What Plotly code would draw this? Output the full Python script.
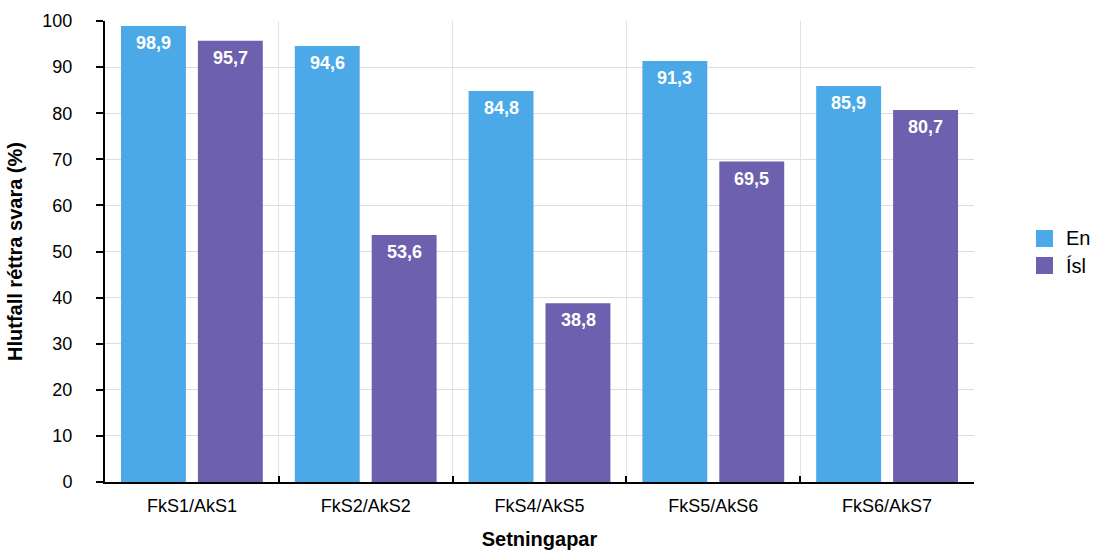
import plotly.graph_objects as go

categories = ["FkS1/AkS1", "FkS2/AkS2", "FkS4/AkS5", "FkS5/AkS6", "FkS6/AkS7"]
en_values = [98.9, 94.6, 84.8, 91.3, 85.9]
isl_values = [95.7, 53.6, 38.8, 69.5, 80.7]
series_names = ["En", "Ísl"]
y_ticks = list(range(0, 101, 10))

colors = ["#4BA9E8", "#6C60AF"]
font_family = "Liberation Sans, Arial, sans-serif"

W, H = 1094, 552
ML, MR, MT, MB = 105, 120, 21, 70

fig = go.Figure()
for name, vals, col in zip(series_names, [en_values, isl_values], colors):
    fig.add_trace(go.Bar(
        x=categories, y=vals, name=name,
        marker=dict(color=col, line=dict(width=0)),
        hoverinfo="skip", showlegend=False,
    ))

# value labels inside the top of each bar
shift = 38.5
for vals, dx in [(en_values, -shift), (isl_values, shift)]:
    for c, v in zip(categories, vals):
        fig.add_annotation(
            x=c, y=v, xref="x", yref="y",
            text=f"<b>{v:.1f}</b>".replace(".", ","),
            showarrow=False, yanchor="top", xshift=dx, yshift=-5,
            font=dict(family=font_family, size=18, color="white"),
        )

# legend drawn with square swatches to the right of the plot
pw, ph = W - ML - MR, H - MT - MB
def px_to_paper_x(px):
    return (px - ML) / pw
def px_to_paper_y(py):
    return (H - MB - py) / ph

sw = 17
for i, (name, col) in enumerate(zip(series_names, colors)):
    cy = 238.5 + 27 * i
    fig.add_shape(
        type="rect", xref="paper", yref="paper",
        x0=px_to_paper_x(1036), x1=px_to_paper_x(1036 + sw),
        y0=px_to_paper_y(cy + sw / 2), y1=px_to_paper_y(cy - sw / 2),
        fillcolor=col, line=dict(width=0),
    )
    fig.add_annotation(
        x=px_to_paper_x(1064), y=px_to_paper_y(cy), xref="paper", yref="paper",
        text=name, showarrow=False, xanchor="left", yanchor="middle",
        font=dict(family=font_family, size=20, color="black"),
    )

fig.update_layout(
    width=W, height=H,
    margin=dict(l=ML, r=MR, t=MT, b=MB, autoexpand=False),
    paper_bgcolor="white", plot_bgcolor="white",
    barmode="group", bargap=0.115, bargroupgap=0.156,
    font=dict(family=font_family, size=18, color="black"),
    showlegend=False,
    xaxis=dict(
        type="category",
        tickson="boundaries",
        showgrid=True, gridcolor="#E2E2E2", gridwidth=1,
        showline=True, linecolor="black", linewidth=2,
        ticks="inside", ticklen=6, tickwidth=2, tickcolor="black",
        tickfont=dict(size=18), ticklabelstandoff=6,
        title=dict(text="<b>Setningapar</b>", font=dict(size=20), standoff=17),
        range=[-0.5, 4.5],
    ),
    yaxis=dict(
        range=[0, 100], tickvals=y_ticks,
        showgrid=True, gridcolor="#DDDDDD", gridwidth=1,
        zeroline=False,
        showline=True, linecolor="black", linewidth=2,
        ticks="outside", ticklen=7, tickwidth=2, tickcolor="black",
        tickfont=dict(size=18), ticklabelstandoff=20,
        title=dict(text="<b>Hlutfall réttra svara (%)</b>", font=dict(size=20), standoff=14),
    ),
)

fig.write_html("out.html")
